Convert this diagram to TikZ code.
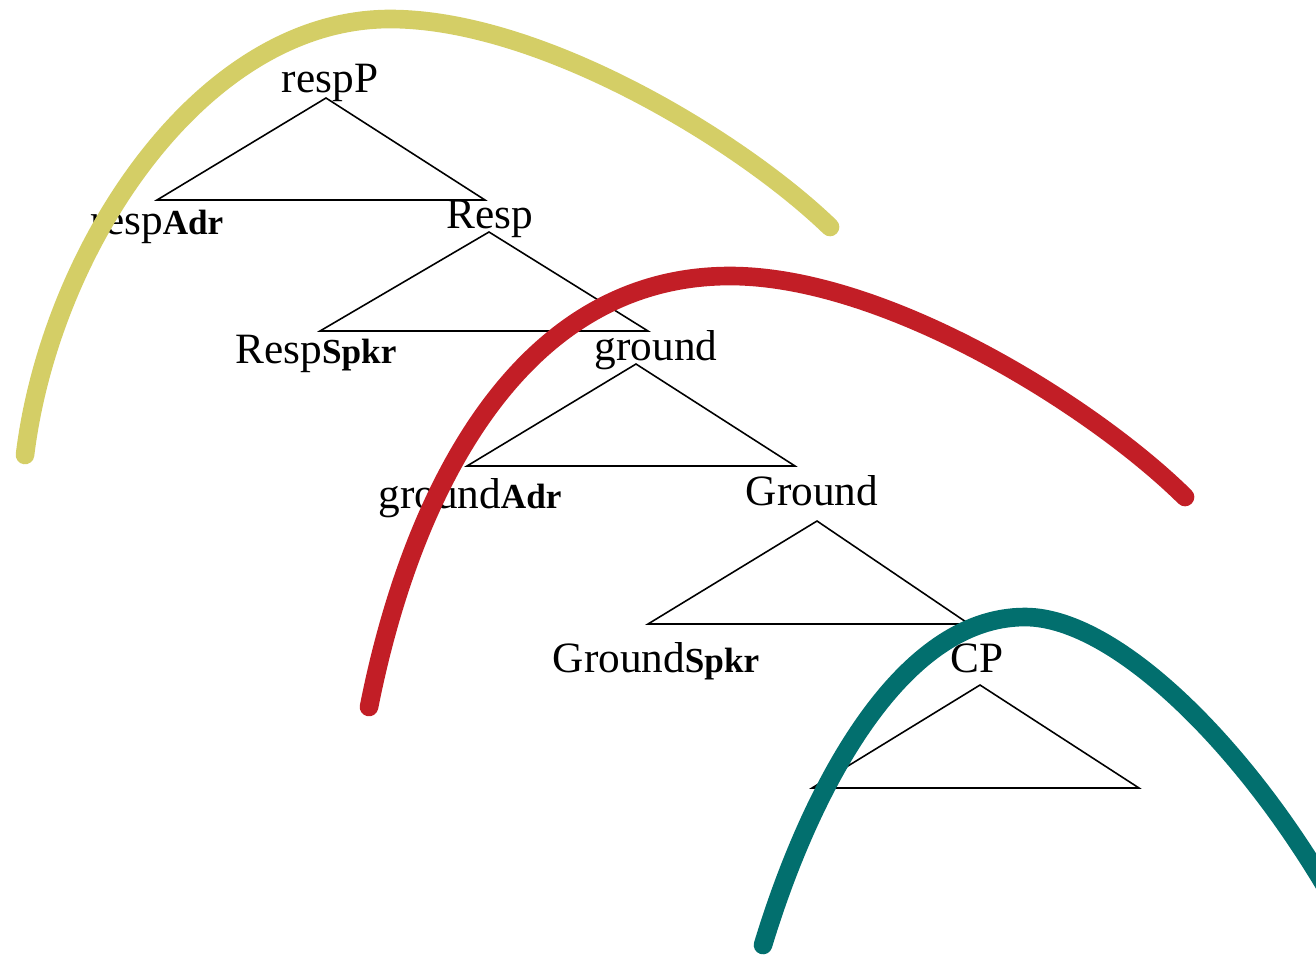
\documentclass[tikz,border=0pt]{standalone}
\usepackage{fontspec}
\setmainfont{Liberation Serif}
\definecolor{arcyellow}{HTML}{D4CE66}
\definecolor{arcred}{HTML}{C21E26}
\definecolor{arcteal}{HTML}{026F6E}
\newcommand{\feat}[1]{{\fontsize{10}{12}\selectfont\bfseries #1}}
\begin{document}
\begin{tikzpicture}
    [
    x=0.01cm, y=-0.01cm,
    cat/.style={inner sep=0pt,anchor=base,font=\fontsize{12.3}{14}\selectfont},
    tri/.style={line width=0.45pt},
    arc/.style={line width=5.3pt,line cap=round,
      preaction={draw=black!50,opacity=0.3,transform canvas={shift={(1,3)}}}}
    ]
    \useasboundingbox (0,0) rectangle (1316,957);
    \clip (0,0) rectangle (1316,957);
    % labels of the spine
    \node (respP) at (330,92) [cat] {respP};
    \node (respAdr) at (157,234) [cat] {resp\feat{Adr}};
    \node (Resp) at (490,228) [cat] {Resp};
    \node (RespSpkr) at (316,363) [cat] {Resp\feat{Spkr}};
    \node (ground) at (656,360) [cat] {ground};
    \node (groundAdr) at (470,508) [cat] {ground\feat{Adr}};
    \node (Ground) at (812,505) [cat] {Ground};
    \node (GroundSpkr) at (656,672) [cat] {Ground\feat{Spkr}};
    \node (CP) at (977,672) [cat] {CP};
    % tops of the triangles
    \coordinate (t1) at (326,98);
    \coordinate (t2) at (489,232);
    \coordinate (t3) at (636,364);
    \coordinate (t4) at (817,521);
    \coordinate (t5) at (980,685);
    \draw [tri] (t1) -- ++(-169,102) -- ++(328,0) -- cycle;
    \draw [tri] (t2) -- ++(-169,99) -- ++(328,0) -- cycle;
    \draw [tri] (t3) -- ++(-169,102) -- ++(328,0) -- cycle;
    \draw [tri] (t4) -- ++(-169,103) -- ++(321,0) -- cycle;
    \draw [tri] (t5) -- ++(-168,103) -- ++(327,0) -- cycle;
    % the three arcs, each through its top point
    \coordinate (y0) at (25,455);  \coordinate (ytop) at (390,19);  \coordinate (y1) at (830,227);
    \coordinate (r0) at (369,707); \coordinate (rtop) at (730,276); \coordinate (r1) at (1185,497);
    \coordinate (c0) at (763,945); \coordinate (ctop) at (1025,617); \coordinate (c1) at (1350,930);
    \draw [arc,arcyellow] (y0) .. controls (50,250) and (200,19) .. (ytop)
                               .. controls (540,19) and (740,140) .. (y1);
    \draw [arc,arcred] (r0) .. controls (410,500) and (515,276) .. (rtop)
                            .. controls (885,276) and (1093,406) .. (r1);
    \draw [arc,arcteal] (c0) .. controls (810,790) and (900,617) .. (ctop)
                             .. controls (1120,617) and (1260,760) .. (c1);
\end{tikzpicture}
\end{document}
